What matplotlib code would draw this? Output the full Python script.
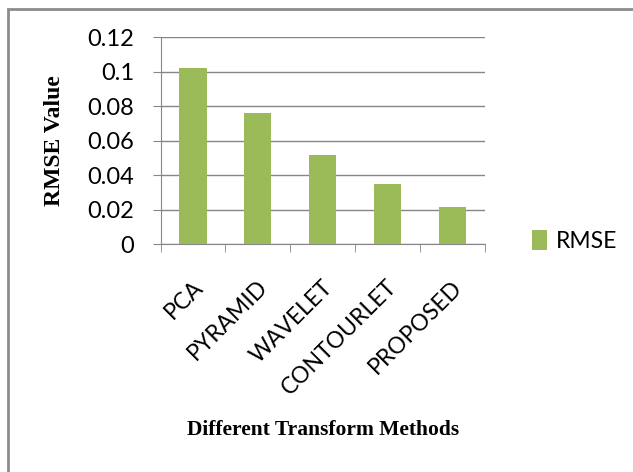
import matplotlib
matplotlib.use("Agg")
import matplotlib.pyplot as plt
import numpy as np
from matplotlib.patches import Rectangle
from matplotlib.transforms import ScaledTranslation

methods = ['PCA', 'PYRAMID', 'WAVELET', 'CONTOURLET', 'PROPOSED']
rmse = [0.102, 0.076, 0.052, 0.035, 0.0215]
yticks = [0, 0.02, 0.04, 0.06, 0.08, 0.1, 0.12]
ytick_labels = ['0', '0.02', '0.04', '0.06', '0.08', '0.1', '0.12']

green = '#9bbb59'
gray = '#868686'

fig = plt.figure(figsize=(6.33, 4.72), dpi=100)
fig.patches.append(Rectangle((8/633, -0.1), 1.2, 1.1 - 9/472, transform=fig.transFigure,
                             fill=False, edgecolor='#8c8c8c', linewidth=2))

ax = fig.add_axes([160.7/633, 1 - 244.3/472, 323.8/633, 207/472])
x = np.arange(len(methods))
ax.bar(x, rmse, width=0.42, color=green, label='RMSE', zorder=3)

ax.set_xlim(-0.5, len(methods) - 0.5)
ax.set_ylim(0, 0.12)
ax.set_yticks(yticks)
ax.set_yticklabels(ytick_labels, fontfamily='Lato', fontsize=17)
ax.yaxis.grid(True, color=gray, linewidth=1, zorder=0)
ax.tick_params(axis='y', length=6, color=gray, pad=13)

ax.set_xticks(x)
ax.set_xticklabels(methods, fontfamily='Lato', fontsize=16.5, rotation=45, ha='right')
ax.set_xticks(np.arange(len(methods) + 1) - 0.5, minor=True)
ax.tick_params(axis='x', which='major', length=0, pad=23)
ax.tick_params(axis='x', which='minor', length=6, color=gray)
for lab in ax.get_xticklabels():
    lab.set_transform(lab.get_transform() + ScaledTranslation(14/100, 0, fig.dpi_scale_trans))

for s in ['top', 'right']:
    ax.spines[s].set_visible(False)
for s in ['left', 'bottom']:
    ax.spines[s].set_color(gray)

fig.text(55/633, 1 - 141/472, 'RMSE Value', rotation=90, ha='center', va='center',
         fontfamily='Liberation Serif', fontweight='bold', fontsize=17)
fig.text(323/633, 1 - 430/472, 'Different Transform Methods', ha='center', va='center',
         fontfamily='Liberation Serif', fontweight='bold', fontsize=15.5)

ax.legend(loc='center left', bbox_to_anchor=(511/633, 1 - 241/472), bbox_transform=fig.transFigure,
          frameon=False, handlelength=0.65, handleheight=1.0, handletextpad=0.4,
          prop={'family': 'Lato', 'size': 16.5})

fig.savefig('out.png', dpi=100)
